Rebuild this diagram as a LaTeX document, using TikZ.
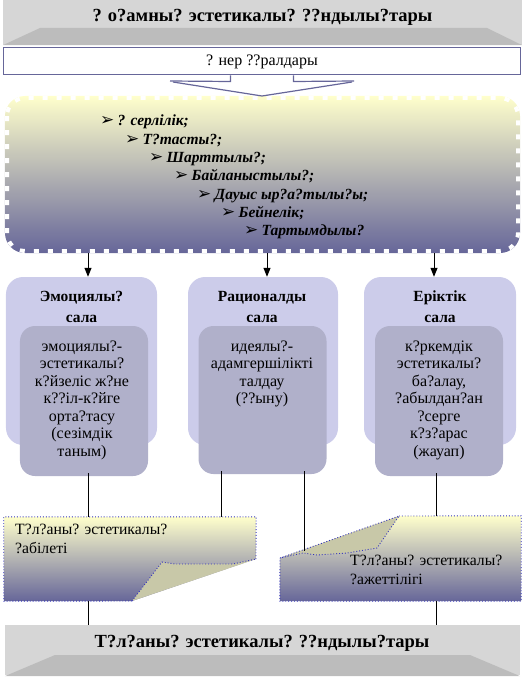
\documentclass[tikz,border=0pt]{standalone}
\usepackage{fontspec}
\setmainfont{Liberation Serif}
\newfontfamily\dejavu{DejaVu Sans}
\usetikzlibrary{arrows.meta}
\definecolor{ylw}{RGB}{255,255,204}
\definecolor{blu}{RGB}{102,102,153}
\definecolor{edgec}{RGB}{102,102,153}
\definecolor{grayA}{RGB}{214,214,214}
\definecolor{grayB}{RGB}{188,188,188}
\definecolor{outerc}{RGB}{204,204,234}
\definecolor{innerc}{RGB}{176,176,202}
\definecolor{flapc}{RGB}{200,200,168}
\definecolor{dotblue}{RGB}{50,50,190}
\newcommand\mybul{{\dejavu\fontsize{17bp}{17bp}\selectfont ➢}}
\newcommand\itm[1]{\makebox[17.5bp][l]{\mybul}#1}
\begin{document}
\begin{tikzpicture}[x=1bp,y=-1bp,
  every node/.style={inner sep=0pt},
  bigtitle/.style={font=\bfseries\fontsize{18.5bp}{20bp}\selectfont},
  banner/.style={fill=grayA, minimum width=519bp},
  nerbox/.style={draw=edgec, line width=1bp, fill=white, minimum width=516bp, minimum height=27bp, font=\fontsize{16bp}{18bp}\selectfont},
  qualbox/.style={top color=ylw, bottom color=blu, rounded corners=20bp, minimum width=515bp, minimum height=157bp},
  item/.style={anchor=base west, font=\bfseries\itshape\fontsize{15.5bp}{17bp}\selectfont},
  outerbox/.style={fill=outerc, rounded corners=17bp, minimum height=168bp},
  innerbox/.style={fill=innerc, rounded corners=15bp, minimum height=150bp, minimum width=128bp},
  otitle/.style={anchor=base, font=\bfseries\fontsize{15.5bp}{21bp}\selectfont},
  itext/.style={anchor=base, font=\fontsize{16bp}{17.5bp}\selectfont},
  btext/.style={anchor=base west, font=\fontsize{15.7bp}{19bp}\selectfont},
  arr/.style={-{Triangle[width=7bp,length=9bp]}, line width=1bp, black},
  conn/.style={line width=1bp, black},
  dotedge/.style={dotblue, dotted, line width=0.9bp},
  brace/.style={edgec, line width=1.2bp}
]
\useasboundingbox (0,0) rectangle (526,681);

% top banner
\node[banner, minimum height=45bp] (tb) at (262.5,22.5) {};
\fill[grayB] (40,28) -- (487,28) -- (tb.south east) -- (tb.south west) -- cycle;
\node[bigtitle] (t1) at (262.5,17) {? о?амны? эстетикалы? ??ндылы?тары};

% art means box
\node[nerbox] (ner) at (262,61.5) {? нер ??ралдары};

% qualities box
\node[qualbox] (qual) at (262.5,174.5) {};
\draw[white, line width=4bp, dash pattern=on 5bp off 9bp, rounded corners=18bp] (7,98) rectangle (518,251);

% brace callout
\coordinate (bl1) at (170,81);
\coordinate (br1) at (354,81);
\coordinate (btip) at (262,96);
\draw[brace] ([xshift=-31.5bp]ner.south) -- ++(0,6) -- (bl1);
\draw[brace] ([xshift=31.5bp]ner.south) -- ++(0,6) -- (br1);
\draw[brace] (173,82) -- (btip) -- (352,82);

\node[item] (i1) at (100,126) {\itm{? серлілік;}};
\node[item] (i2) at (125,144.3) {\itm{Т?тасты?;}};
\node[item] (i3) at (149,162.6) {\itm{Шарттылы?;}};
\node[item] (i4) at (174,180.9) {\itm{Байланыстылы?;}};
\node[item] (i5) at (197,199.2) {\itm{Дауыс ыр?а?тылы?ы;}};
\node[item] (i6) at (221,217.5) {\itm{Бейнелік;}};
\node[item] (i7) at (244,235.8) {\itm{Тартымдылы?}};

% three spheres
\node[outerbox, minimum width=151bp] (o1) at (81.5,361) {};
\node[outerbox, minimum width=150bp] (o2) at (263,361) {};
\node[outerbox, minimum width=152bp] (o3) at (440,361) {};
\node[otitle] (h1) at (81.5,301) {\parbox[t]{140bp}{\centering Эмоциялы?\\сала}};
\node[otitle] (h2) at (262,301) {\parbox[t]{140bp}{\centering Рационалды\\сала}};
\node[otitle] (h3) at (440,301) {\parbox[t]{140bp}{\centering Еріктік\\сала}};
\node[innerbox] (in1) at (84,401) {};
\node[innerbox, minimum height=148bp] (in2) at (262.5,400) {};
\node[innerbox] (in3) at (439,401) {};
\node[itext] (x1) at (82,351) {\parbox[t]{128bp}{\centering эмоциялы?-\\эстетикалы?\\к?йзеліс ж?не\\к??іл-к?йге\\орта?тасу\\(сезімдік\\таным)}};
\node[itext] (x2) at (262,351) {\parbox[t]{128bp}{\centering идеялы?-\\адамгершілікті\\талдау\\(??ыну)}};
\node[itext] (x3) at (439,351) {\parbox[t]{128bp}{\centering к?ркемдік\\эстетикалы?\\ба?алау,\\?абылдан?ан\\?серге\\к?з?арас\\(жауап)}};

% arrows
\coordinate (a1) at (88,0);
\coordinate (a2) at (267,0);
\coordinate (a3) at (434,0);
\draw[arr] (qual.south -| a1) -- (o1.north -| a1);
\draw[arr] (qual.south -| a2) -- (o2.north -| a2);
\draw[arr] (qual.south -| a3) -- (o3.north -| a3);

% bottom boxes
\node[minimum width=252bp, minimum height=84bp] (bl) at (130,559) {};
\node[minimum width=241bp, minimum height=85bp] (br) at (400.5,558.5) {};
\shade[top color=ylw, bottom color=blu] (bl.north west) -- (bl.north east) -- (256,559) -- (132,601) -- (bl.south west) -- cycle;
\draw[dotedge] (256,559) -- (bl.north east) -- (bl.north west) -- (bl.south west) -- (132,601);
\fill[flapc] (132,601) -- (162,562) -- (175,564) -- (233,564) -- (256,559) -- cycle;
\draw[dotedge] (132,601) -- (162,562) -- (175,564) -- (233,564) -- (256,559);
\node[btext] (bt1) at (15,534) {\parbox[t]{240bp}{\raggedright Т?л?аны? эстетикалы?\\?абілеті}};

\shade[top color=ylw, bottom color=blu] (399,516) -- (br.north east) -- (br.south east) -- (br.south west) -- (280,558) -- cycle;
\draw[dotedge] (399,516) -- (br.north east) -- (br.south east) -- (br.south west) -- (280,558);
\fill[flapc] (280,558) -- (399,516) -- (377,548) -- (347,553) -- (317,555) -- (303,553) -- cycle;
\draw[dotedge] (280,558) -- (399,516) -- (377,548) -- (347,553) -- (317,555) -- (303,553) -- cycle;
\node[btext] (bt2) at (350,565) {\parbox[t]{170bp}{\raggedright Т?л?аны? эстетикалы?\\?ажеттілігі}};

% connectors to bottom boxes
\coordinate (c1) at (88,0);
\coordinate (c2) at (221,0);
\coordinate (c3) at (304,0);
\coordinate (c4) at (436,0);
\coordinate (c3e) at (304,551);
\draw[conn] ([yshift=3bp]in1.south -| c1) -- (bl.north -| c1);
\draw[conn] ([yshift=3bp]in2.south -| c2) -- (bl.north -| c2);
\draw[conn] ([yshift=3bp]in2.south -| c3) -- (c3e);
\draw[conn] ([yshift=3bp]in3.south -| c4) -- (br.north -| c4);

% bottom banner
\node[banner, minimum width=515bp, minimum height=50bp] (bb) at (262.5,650) {};
\fill[grayB] (55,655) -- (470,655) -- ([yshift=-1bp]bb.south east) -- ([yshift=-1bp]bb.south west) -- cycle;
\node[bigtitle] (t2) at (262,643) {Т?л?аны? эстетикалы? ??ндылы?тары};
\draw[conn] (bl.south -| c1) -- (bb.north -| c1);
\draw[conn] (br.south -| c4) -- (bb.north -| c4);
\end{tikzpicture}
\end{document}
